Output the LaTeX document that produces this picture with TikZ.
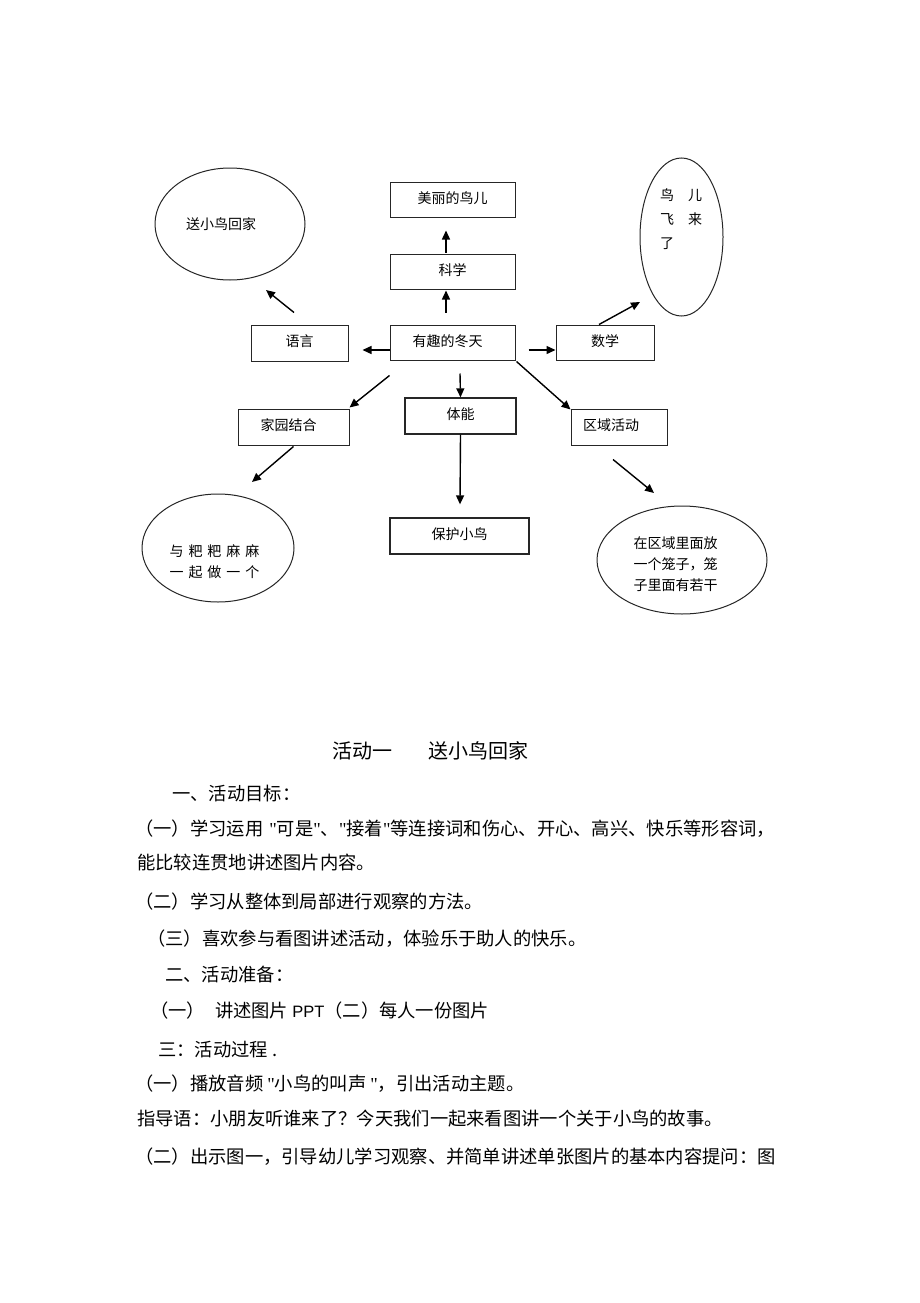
\documentclass[tikz,border=0pt]{standalone}
\usepackage{fontspec}
\setmainfont{Noto Sans CJK SC}
\newfontfamily\latf{Liberation Sans}
\newfontfamily\qf{Liberation Serif}[Ligatures=TeXOff]
\newcommand\qq{{\qf\symbol{34}}}
\usetikzlibrary{arrows.meta,shapes.geometric}
\XeTeXlinebreaklocale "zh"
\XeTeXlinebreakskip=0pt plus 3pt
\tikzset{
  bx/.style={draw=black!85, line width=1pt, inner sep=0pt, font=\fontsize{14}{14}\selectfont, text height=0.85em, text depth=0.09em},
  ov/.style={ellipse, draw=black!85, line width=1pt, inner sep=0pt},
  lbl/.style={inner sep=0pt, align=left},
  arr/.style={line width=1.4pt, -{Triangle[length=9pt,width=8pt]}},
  body/.style={anchor=west, inner sep=0pt, font=\fontsize{18.3}{18.3}\selectfont, text height=0.85em, text depth=0.09em},
  ttl/.style={anchor=west, inner sep=0pt, font=\fontsize{20}{20}\selectfont, text height=0.85em, text depth=0.09em}
}
\begin{document}
\begin{tikzpicture}[x=1pt,y=-1pt]
\fill[white] (0,0) rectangle (920,1303);
\useasboundingbox (0,0) rectangle (920,1303);

% boxes
\node[bx, minimum width=125pt, minimum height=35pt] (meili) at (452.5,199.5) {美丽的鸟儿};
\node[bx, minimum width=125pt, minimum height=35pt] (kexue) at (452.5,271.5) {科学};
\node[bx, minimum width=125pt, minimum height=35pt] (youqu) at (452.5,342.5) {\hspace*{-10pt}有趣的冬天};
\node[bx, minimum width=97pt, minimum height=36pt] (yuyan) at (299.5,343) {语言};
\node[bx, minimum width=98pt, minimum height=35pt] (shuxue) at (605,342.5) {数学};
\node[bx, minimum width=111pt, minimum height=36pt] (jiayuan) at (293.5,427) {\hspace*{-10pt}家园结合};
\node[bx, line width=1.3pt, minimum width=111pt, minimum height=36pt] (tineng) at (460.5,416) {体能};
\node[bx, minimum width=96pt, minimum height=36pt] (quyu) at (619,427) {\hspace*{-16pt}区域活动};
\node[bx, line width=1.3pt, minimum width=139pt, minimum height=36pt] (baohu) at (459.5,536) {保护小鸟};

% ellipses
\node[ov, minimum width=150pt, minimum height=112pt] (songxiao) at (230,224) {};
\node[lbl, font=\fontsize{14}{14}\selectfont] (songxiaot) at (221,224) {送小鸟回家};
\node[ov, minimum width=83pt, minimum height=158pt] (niaor) at (681.5,237) {};
\node[lbl, font=\fontsize{14}{24}\selectfont] (niaort) at (681,219) {鸟\hspace{14pt}儿\\飞\hspace{14pt}来\\了};
\node[ov, minimum width=152pt, minimum height=108pt] (yubaba) at (218,548) {};
\node[lbl, font=\fontsize{14}{21}\selectfont] (yubabat) at (214.5,562) {与\hspace{5pt}粑\hspace{5pt}粑\hspace{5pt}麻\hspace{5pt}麻\\一\hspace{5pt}起\hspace{5pt}做\hspace{5pt}一\hspace{5pt}个};
\node[ov, minimum width=170pt, minimum height=108pt] (zaiquyu) at (682,560) {};
\node[lbl, font=\fontsize{14}{21}\selectfont] (zaiquyut) at (675.5,564) {在区域里面放\\一个笼子，笼\\子里面有若干};

% arrows
\draw[arr] ([shift={(-6.5,-1)}]kexue.north) -- ([shift={(-6.5,13)}]meili.south);
\draw[arr] ([shift={(-6.5,-12)}]youqu.north) -- ([shift={(-6.5,1)}]kexue.south);
\draw[arr] ([shift={(-5.5,-12)}]yuyan.north) -- ([shift={(36,66)}]songxiao.center);
\draw[arr] ([shift={(0,7.5)}]youqu.west) -- ([shift={(14,7)}]yuyan.east);
\draw[arr] ([shift={(13,7.5)}]youqu.east) -- ([shift={(0,7.5)}]shuxue.west);
\draw[arr] ([shift={(-6,0)}]shuxue.north) -- ([shift={(-41.5,65)}]niaor.center);
\draw[arr] ([shift={(1,1)}]youqu.south east) -- ([shift={(0,1)}]quyu.north west);
\draw[arr] ([shift={(0,15)}]youqu.south west) -- ([shift={(0,-1)}]jiayuan.north east);
\draw[arr] ([shift={(7.5,13)}]youqu.south) -- (tineng.north);
\draw[arr] (tineng.south) -- ([shift={(0.5,-13)}]baohu.north);
\draw[arr] ([shift={(0,1)}]jiayuan.south) -- ([shift={(34,-66)}]yubaba.center);
\draw[arr] ([shift={(-6,14)}]quyu.south) -- ([shift={(-28,-67)}]zaiquyu.center);

% text
\node[ttl] (t1) at (332,755) {活动一};
\node[ttl] (t2) at (428,755) {送小鸟回家};
\node[body] (l1) at (172,797) {一、活动目标：};
\node[body] (l2) at (135,832) {\makebox[648pt][s]{（一）学习运用\kern6pt\qq 可是\qq 、\qq 接着\qq 等连接词和伤心、开心、高兴、快乐等形容词，}};
\node[body] (l3) at (137,866) {能比较连贯地讲述图片内容。};
\node[body] (l4) at (135,905) {（二）学习从整体到局部进行观察的方法。};
\node[body] (l5) at (147,942) {（三）喜欢参与看图讲述活动，体验乐于助人的快乐。};
\node[body] (l6) at (165,978) {二、活动准备：};
\node[body] (l7) at (150,1014) {（一）\hspace{10pt}讲述图片 {\latf\fontsize{16.5}{16.5}\selectfont PPT}（二）每人一份图片};
\node[body] (l8) at (158,1053) {三：活动过程 .};
\node[body] (l9) at (135,1087) {（一）播放音频 \qq 小鸟的叫声 \qq ，引出活动主题。};
\node[body] (l10) at (137,1122) {指导语：小朋友听谁来了？今天我们一起来看图讲一个关于小鸟的故事。};
\node[body] (l11) at (135,1160) {\makebox[648pt][s]{（二）出示图一，引导幼儿学习观察、并简单讲述单张图片的基本内容提问：图}};
\end{tikzpicture}
\end{document}
